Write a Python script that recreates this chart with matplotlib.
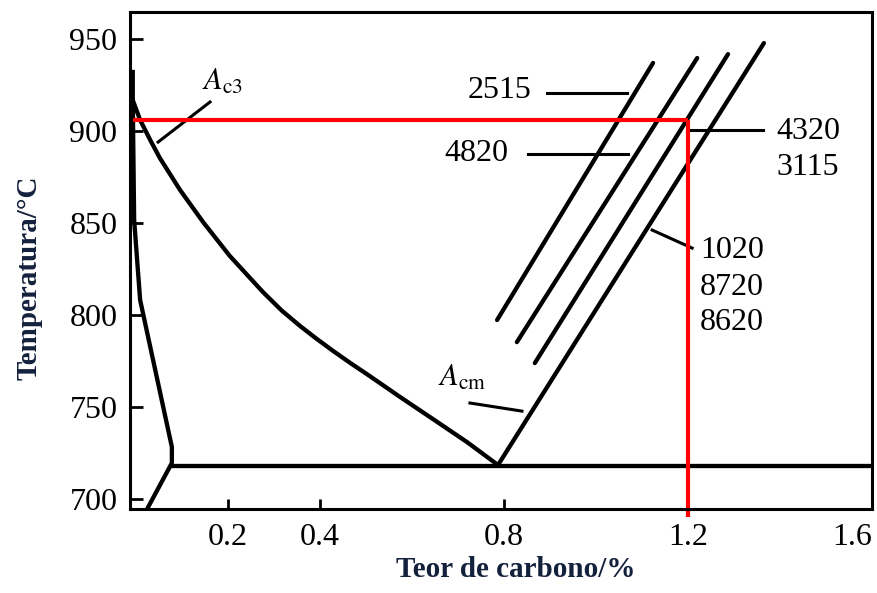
import matplotlib
matplotlib.use("Agg")
import matplotlib.pyplot as plt

plt.rcParams["font.family"] = ["Liberation Serif", "DejaVu Serif"]
plt.rcParams["mathtext.fontset"] = "stix"

# Ac3 line (carbon %, temperature C)
ac3_c = [-0.007, 0.009, 0.031, 0.052, 0.096, 0.146, 0.204, 0.276, 0.317, 0.357, 0.391,
         0.428, 0.465, 0.502, 0.574, 0.646, 0.720, 0.787]
ac3_t = [916.8, 906.0, 895.1, 885.3, 867.9, 850.5, 832.1, 812.5, 802.4, 794.0, 787.4,
         780.6, 774.1, 767.9, 755.5, 743.4, 730.9, 718.5]

# ferrite boundary on the low carbon side
alpha_c = [-0.007, -0.007, -0.004, 0.009, 0.078, 0.078, 0.024]
alpha_t = [932.1, 916.8, 851.6, 808.2, 728.3, 719.6, 694.5]

# eutectoid line
eut_c = [0.078, 1.6]
eut_t = [718.0, 718.0]

# Acm lines for each steel grade group
grades = ["2515", "4820", "4320", "1020"]
acm_c = {"2515": [0.785, 1.124], "4820": [0.828, 1.220], "4320": [0.867, 1.287], "1020": [0.787, 1.365]}
acm_t = {"2515": [797.3, 937.0], "4820": [785.3, 939.7], "4320": [773.9, 941.8], "1020": [718.5, 947.8]}

# label leaders
leaders = [
    ([0.048, 0.161], [894.0, 915.8]),   # Ac3
    ([0.726, 0.839], [752.2, 747.8]),   # Acm
    ([0.893, 1.067], [920.7, 920.7]),   # 2515
    ([0.852, 1.070], [887.5, 887.5]),   # 4820
    ([1.200, 1.363], [900.5, 900.5]),   # 4320 / 3115
    ([1.122, 1.209], [846.2, 836.4]),   # 1020 / 8720 / 8620
]
grade_text = ["2515", "4820", "4320", "3115", "1020", "8720", "8620"]
grade_x = [0.791, 0.739, 1.461, 1.461, 1.296, 1.296, 1.296]
grade_y = [922.3, 888.0, 899.5, 880.4, 835.3, 815.2, 796.2]

# chosen composition / temperature
sel_c = 1.2
sel_t = 906.0

yticks = [700, 750, 800, 850, 900, 950]
xticks = [0.2, 0.4, 0.8, 1.2, 1.6]
xticklabels = ["0.2", "0.4", "0.8", "1.2", "1.6"]

fig = plt.figure(figsize=(8.78, 5.93), dpi=100)
ax = fig.add_axes([130 / 878, 84 / 593, 742 / 878, 497 / 593])

lw = 3.1
ax.plot(ac3_c, ac3_t, color="black", lw=lw, solid_joinstyle="round")
ax.plot(alpha_c, alpha_t, color="black", lw=lw, solid_joinstyle="miter")
ax.plot(eut_c, eut_t, color="black", lw=lw)
for g in grades:
    ax.plot(acm_c[g], acm_t[g], color="black", lw=lw, solid_capstyle="round")
for lx, ly in leaders:
    ax.plot(lx, ly, color="black", lw=2.2)

for s, x, y in zip(grade_text, grade_x, grade_y):
    ax.text(x, y, s, fontsize=23, ha="center", va="center")
ax.text(0.187, 926.6, r"$A_{\mathrm{c3}}$", fontsize=22, ha="center", va="center")
ax.text(0.709, 765.8, r"$A_{\mathrm{cm}}$", fontsize=22, ha="center", va="center")

# selected point marked in red
ax.plot([-0.007, sel_c], [sel_t, sel_t], color="red", lw=3, solid_capstyle="butt")
ax.plot([sel_c, sel_c], [sel_t, 690], color="red", lw=3, solid_capstyle="butt", clip_on=False)

ax.set_xlim(-0.013, 1.6)
ax.set_ylim(694.6, 964.7)
ax.set_yticks(yticks)
ax.set_xticks(xticks)
ax.set_xticklabels(xticklabels)
ax.get_xticklabels()[-1].set_horizontalalignment("right")
ax.tick_params(axis="y", direction="in", length=9, width=2, labelsize=23, pad=9)
ax.tick_params(axis="x", direction="in", length=7, width=2, labelsize=23, pad=10)
for sp in ax.spines.values():
    sp.set_linewidth(2.2)

ax.set_xlabel("Teor de carbono/%", fontsize=21, fontweight="bold", color="#14213d")
ax.set_ylabel("Temperatura/\u00b0C", fontsize=21, fontweight="bold", color="#14213d")
ax.xaxis.set_label_coords(0.520, -0.095)
ax.yaxis.set_label_coords(-0.118, 0.465)

fig.savefig("out.png", dpi=100)
